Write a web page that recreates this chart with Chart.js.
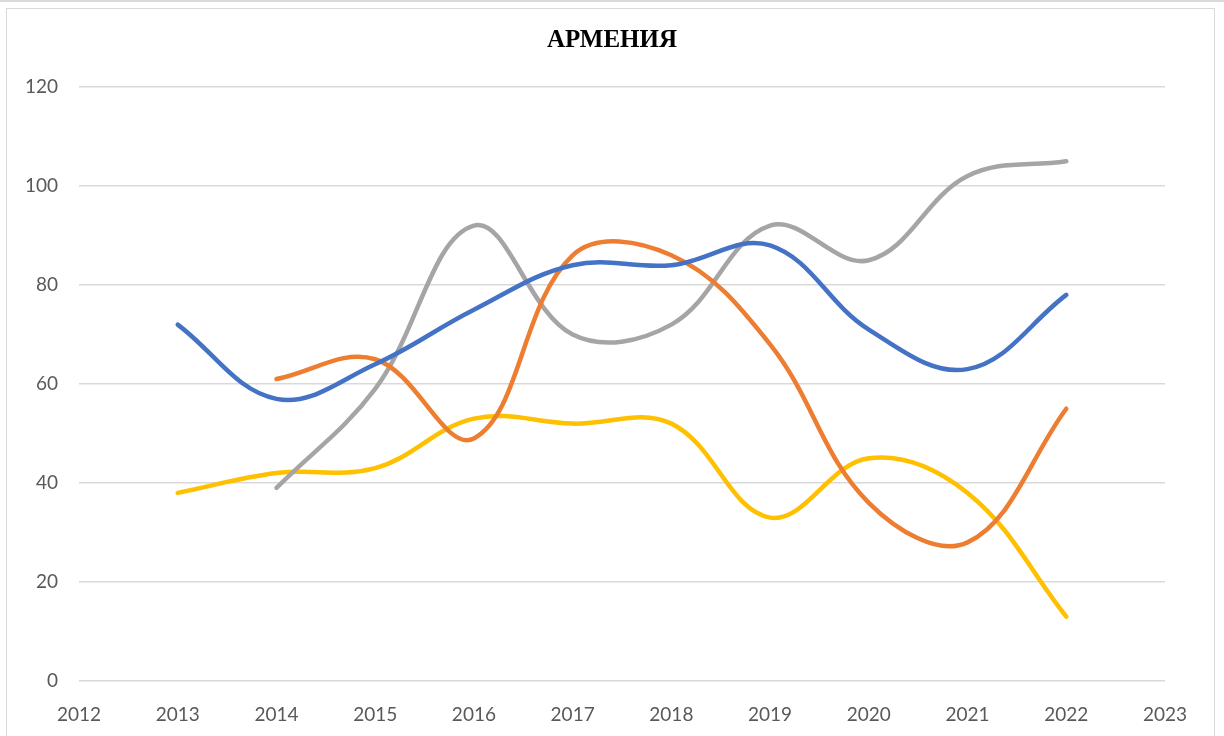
<!DOCTYPE html>
<html>
<head>
<meta charset="utf-8">
<script src="https://cdn.jsdelivr.net/npm/chart.js@4/dist/chart.umd.min.js"></script>
<style>
  html,body{margin:0;padding:0;background:#fff;overflow:hidden;}
  #topline{position:absolute;left:0;top:0;width:1224px;height:0;border-top:2px solid #d9d9d9;}
  #frame{position:absolute;left:6px;top:8px;width:1209px;height:740px;border:1.5px solid #d9d9d9;box-sizing:border-box;}
  #wrap{position:absolute;left:0;top:0;width:1224px;height:736px;}
</style>
</head>
<body>
<div id="topline"></div>
<div id="frame"></div>
<div id="wrap"><canvas id="arm_chart"></canvas></div>
<script>
/* ---- data ---- */
const years   = [2013, 2014, 2015, 2016, 2017, 2018, 2019, 2020, 2021, 2022];
const blue    = [72, 57, 64, 75, 84, 84, 88, 71, 63, 78];
const orange  = [null, 61, 65, 49, 86, 86, 68, 36, 28, 55];
const gray    = [null, 39, 59, 92, 70, 72, 92, 85, 102, 105];
const yellow  = [38, 42, 43, 53, 52, 52, 33, 45, 38, 13];
const xTicks  = [2012, 2013, 2014, 2015, 2016, 2017, 2018, 2019, 2020, 2021, 2022, 2023];
const yTicks  = [0, 20, 40, 60, 80, 100, 120];

const pts = arr => years.map((y,i)=>({x:y, y:arr[i]})).filter(p=>p.y!==null);
const line = (data, color) => ({
  data: pts(data), borderColor: color, borderWidth: 4.5, pointRadius: 0,
  tension: 0.38, borderCapStyle: 'round', borderJoinStyle: 'round', fill: false
});

const tickFont = {family: 'Lato, "Open Sans", sans-serif', size: 19};

new Chart(document.getElementById('arm_chart'), {
  type: 'line',
  data: { datasets: [
    line(blue,   '#4472C4'),
    line(orange, '#ED7D31'),
    line(gray,   '#A5A5A5'),
    line(yellow, '#FFC000')
  ]},
  options: {
    responsive: true, maintainAspectRatio: false, animation: false,
    layout: { padding: 0 },
    plugins: {
      legend: { display: false }, tooltip: { enabled: false },
      title: { display: true, text: 'АРМЕНИЯ', color: '#000',
        font: { family: '"Liberation Serif", "DejaVu Serif", serif', size: 25, weight: 'bold', lineHeight: 1.2 },
        padding: { top: 26, bottom: 31 } }
    },
    scales: {
      x: {
        type: 'linear', min: xTicks[0], max: xTicks[xTicks.length-1],
        afterBuildTicks: s => { s.ticks = xTicks.map(v=>({value:v})); },
        ticks: { color: '#595959', font: tickFont, padding: 14, maxRotation: 0,
                 callback: v => String(v) },
        grid: { display: false }, border: { display: false },
        afterFit: s => { s.height = 736 - 681; }
      },
      y: {
        min: yTicks[0], max: yTicks[yTicks.length-1],
        afterBuildTicks: s => { s.ticks = yTicks.map(v=>({value:v})); },
        ticks: { color: '#595959', font: tickFont, padding: 21 },
        grid: { color: '#d9d9d9', lineWidth: 1.5, drawTicks: false },
        border: { display: false },
        afterFit: s => { s.width = 79; }
      },
      // empty right-hand spacer so the plot ends at 2023 like the original
      yRight: {
        position: 'right', min: 0, max: 120,
        ticks: { display: false }, grid: { display: false }, border: { display: false },
        afterFit: s => { s.width = 1224 - 1165; }
      }
    }
  }
});
</script>
</body>
</html>
